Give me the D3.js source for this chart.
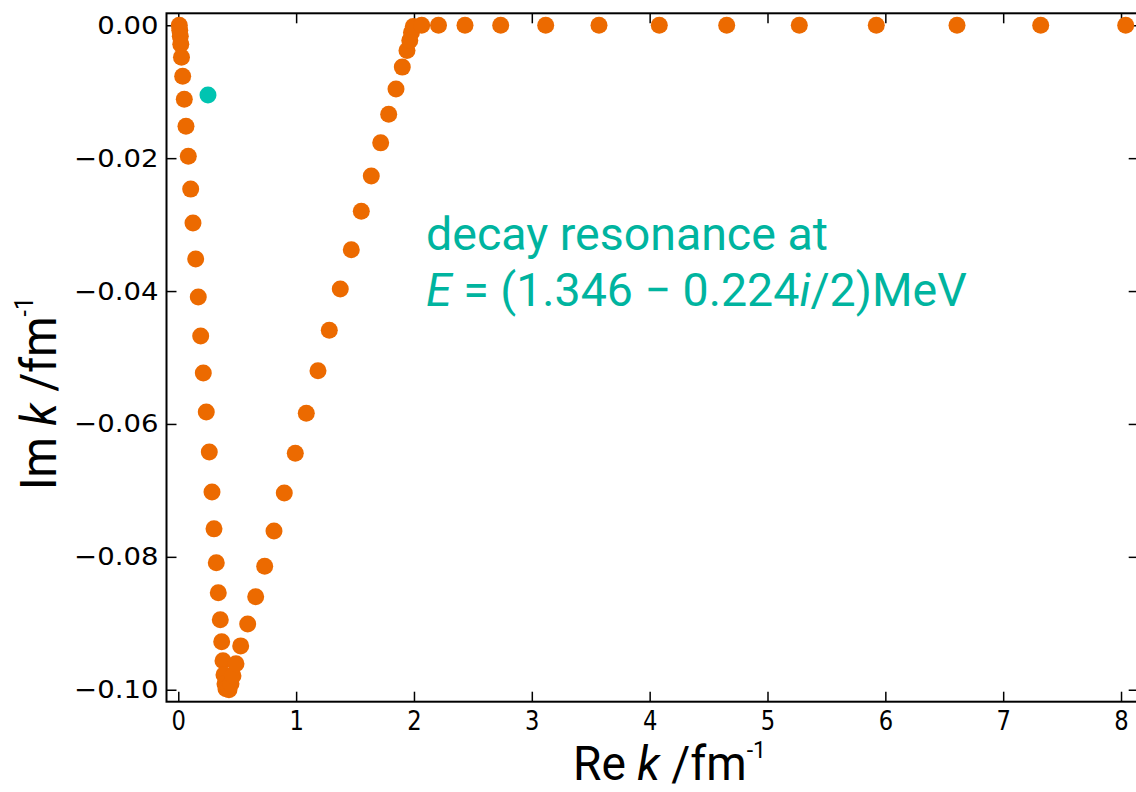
<!DOCTYPE html>
<html>
<head>
<meta charset="utf-8">
<script src="https://cdn.jsdelivr.net/npm/d3@7"></script>
<style>
  body { margin: 0; background: #fff; }
  svg { display: block; }
  .tick text { font-family: "DejaVu Sans", sans-serif; fill: #000; }
  .tick line { stroke: #000; stroke-width: 1.5; }
</style>
</head>
<body>
<svg id="chart" width="1136" height="792"></svg>
<script>
// pole trajectory of k in the complex plane (Re k, Im k) in fm^-1
let reK = [
    0.0085, 0.0127, 0.0170, 0.0212, 0.0272, 0.0373, 0.0509, 0.0653, 0.0849, 0.1052,
    0.1247, 0.1477, 0.1697, 0.1901, 0.2122, 0.2376, 0.2631, 0.2860, 0.3030, 0.3225,
    0.3394, 0.3564, 0.3683, 0.3793, 0.3878, 0.3963, 0.4048,
    0.4302, 0.4472, 0.4641, 0.4896, 0.5295, 0.5889, 0.6568, 0.7332, 0.8121, 0.8995,
    0.9929, 1.0862, 1.1855, 1.2814, 1.3747, 1.4681, 1.5530, 1.6378, 1.7176, 1.7855,
    1.8474, 1.9009, 1.9408, 1.9645, 1.9790, 1.9942,
    2.0655, 2.2081, 2.4330, 2.7359, 3.1178, 3.5701, 4.0818, 4.6537, 5.2699, 5.9233,
    6.6081, 7.3184, 8.0397
];
let imK = [
    0.0000, -0.00075, -0.00165, -0.00286, -0.00481, -0.00767, -0.01113, -0.01519, -0.01970, -0.02466,
    -0.02977, -0.03519, -0.04090, -0.04677, -0.05233, -0.05820, -0.06421, -0.07023, -0.07579, -0.08090,
    -0.08541, -0.08947, -0.09278, -0.09564, -0.09774, -0.09910, -0.09985,
    -0.1000, -0.0991, -0.0979, -0.0961, -0.0934, -0.0901, -0.0860, -0.0814, -0.0761, -0.0704,
    -0.0644, -0.0584, -0.0520, -0.0459, -0.0397, -0.0338, -0.0280, -0.0227, -0.0177, -0.0134,
    -0.0096, -0.0063, -0.0038, -0.0023, -0.0011, -0.0002,
    0, 0, 0, 0, 0, 0, 0, 0, 0, 0,
    0, 0, 0
];
// the decaying resonance
let resonanceRe = [0.252];
let resonanceIm = [-0.0105];

let xTicks = [0, 1, 2, 3, 4, 5, 6, 7, 8];
let yTicks = [0, -0.02, -0.04, -0.06, -0.08, -0.10];

let orange = '#ec6a00';
let teal = '#00c4b1';

let svg = d3.select('#chart');

let plotLeft = 166.5, plotRight = 1138.7, plotTop = 13.3, plotBottom = 701.7;

let x = d3.scaleLinear().domain([-0.1, 8.15]).range([plotLeft, plotRight]);
let y = d3.scaleLinear().domain([-0.1018, 0.0018]).range([plotBottom, plotTop]);

// axes, ticks pointing inside like the old matplotlib style
let gx = svg.append('g')
    .attr('transform', 'translate(0,' + plotBottom + ')')
    .call(d3.axisBottom(x).tickValues(xTicks).tickFormat(d3.format('d'))
        .tickSizeInner(-10).tickSizeOuter(0).tickPadding(7));
let gxTop = svg.append('g')
    .attr('transform', 'translate(0,' + plotTop + ')')
    .call(d3.axisTop(x).tickValues(xTicks).tickFormat('')
        .tickSizeInner(-10).tickSizeOuter(0));
let gy = svg.append('g')
    .attr('transform', 'translate(' + plotLeft + ',0)')
    .call(d3.axisLeft(y).tickValues(yTicks).tickFormat(d3.format('.2f'))
        .tickSizeInner(-10).tickSizeOuter(0).tickPadding(8));
let gyRight = svg.append('g')
    .attr('transform', 'translate(' + plotRight + ',0)')
    .call(d3.axisRight(y).tickValues(yTicks).tickFormat('')
        .tickSizeInner(-10).tickSizeOuter(0));

[gx, gxTop, gy, gyRight].forEach(function(g) {
    g.select('.domain').remove();
    g.attr('font-family', null).attr('font-size', null);
});

// x tick labels look narrow and tall, y tick labels a bit wide
gx.selectAll('.tick text')
    .attr('font-size', 27)
    .attr('y', 0).attr('dy', null)
    .attr('transform', 'translate(0,' + 28 + ') scale(0.84,1)');
gy.selectAll('.tick text')
    .attr('font-size', 25)
    .attr('x', 0)
    .attr('transform', 'translate(-8,0) scale(1.1,1)');

svg.append('rect')
    .attr('x', plotLeft)
    .attr('y', plotTop)
    .attr('width', plotRight - plotLeft)
    .attr('height', plotBottom - plotTop)
    .attr('fill', 'none')
    .attr('stroke', '#000')
    .attr('stroke-width', 2);

// points
let pts = reK.map(function(d, i) { return {re: d, im: imK[i]}; });

svg.append('g')
    .selectAll('circle')
    .data(pts)
    .enter()
    .append('circle')
    .attr('cx', function(d) { return x(d.re); })
    .attr('cy', function(d) { return y(d.im); })
    .attr('r', 8.5)
    .attr('fill', orange);

svg.append('g')
    .selectAll('circle')
    .data(resonanceRe.map(function(d, i) { return {re: d, im: resonanceIm[i]}; }))
    .enter()
    .append('circle')
    .attr('cx', function(d) { return x(d.re); })
    .attr('cy', function(d) { return y(d.im); })
    .attr('r', 8.5)
    .attr('fill', teal);

// annotation
let note = svg.append('text')
    .attr('font-family', 'Roboto, sans-serif')
    .attr('font-size', 46.5)
    .attr('fill', '#00b49f');
note.append('tspan').attr('x', 426).attr('y', 250).text('decay resonance at');
note.append('tspan').attr('x', 426).attr('y', 306).attr('font-style', 'italic').text('E');
note.append('tspan').text(' = (1.346 \u2212 0.224');
note.append('tspan').attr('font-style', 'italic').text('i');
note.append('tspan').text('/2)MeV');

// axis labels
let xl = svg.append('text')
    .attr('font-family', 'Roboto, sans-serif')
    .attr('font-size', 48)
    .attr('transform', 'translate(573,780) scale(0.96,1)');
xl.append('tspan').text('Re ');
xl.append('tspan').attr('font-style', 'italic').text('k');
xl.append('tspan').text(' /fm');
xl.append('tspan').attr('font-size', 24).attr('dy', -22).text('-1');

let yl = svg.append('text')
    .attr('font-family', 'Roboto, sans-serif')
    .attr('font-size', 50)
    .attr('transform', 'translate(56,490) rotate(-90) scale(0.92,1)');
yl.append('tspan').text('Im ');
yl.append('tspan').attr('font-style', 'italic').text('k');
yl.append('tspan').text(' /fm');
yl.append('tspan').attr('font-size', 25).attr('dy', -23).text('-1');
</script>
</body>
</html>
